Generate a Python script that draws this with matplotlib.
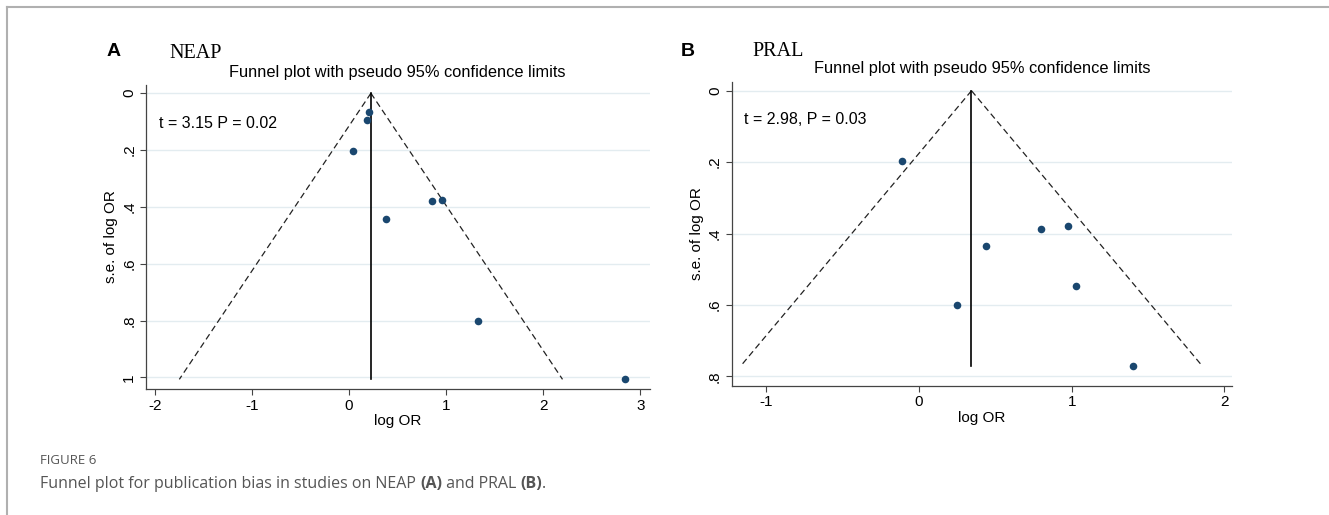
import numpy as np
import matplotlib.pyplot as plt
from matplotlib.lines import Line2D

# Panel A (NEAP) study estimates
neap_logor = [0.207, 0.188, 0.044, 0.856, 0.956, 0.384, 1.325, 2.845]
neap_se = [0.067, 0.095, 0.204, 0.379, 0.377, 0.441, 0.800, 1.007]
neap_pooled = 0.225

# Panel B (PRAL) study estimates
pral_logor = [-0.108, 0.796, 0.974, 0.436, 1.026, 0.251, 1.403]
pral_se = [0.196, 0.387, 0.379, 0.436, 0.546, 0.600, 0.771]
pral_pooled = 0.344

neap_xticks = [-2, -1, 0, 1, 2, 3]
neap_yticks = [0, 0.2, 0.4, 0.6, 0.8, 1.0]
neap_ylabels = ["0", ".2", ".4", ".6", ".8", "1"]
pral_xticks = [-1, 0, 1, 2]
pral_yticks = [0, 0.2, 0.4, 0.6, 0.8]
pral_ylabels = ["0", ".2", ".4", ".6", ".8"]

W, H = 1329, 515
fig = plt.figure(figsize=(W / 100, H / 100), dpi=100)
fig.patch.set_facecolor("white")

dot = "#1a476f"
grid_c = "#e3ecf0"


def funnel(ax, x, se, pooled, xlim, ylim, xticks, yticks, ylabels, note):
    ax.set_xlim(*xlim)
    ax.set_ylim(*ylim)  # inverted: se grows downwards
    for t in yticks:
        ax.axhline(t, color=grid_c, lw=1.0, zorder=0)
    smax = max(se)
    s = np.array([0, smax])
    ax.plot(pooled - 1.96 * s, s, ls=(0, (5, 3)), color="#222222", lw=0.9)
    ax.plot(pooled + 1.96 * s, s, ls=(0, (5, 3)), color="#222222", lw=0.9)
    ax.plot([pooled, pooled], [0, smax], color="black", lw=1.2)
    ax.scatter(x, se, s=30, color=dot, zorder=3, linewidths=0)
    ax.set_xticks(xticks)
    ax.set_xticklabels([str(v) for v in xticks], fontsize=11, family="Liberation Sans")
    ax.set_yticks(yticks)
    ax.set_yticklabels(ylabels, fontsize=11, family="Liberation Sans",
                       rotation=90, va="center")
    for sp in ["top", "right"]:
        ax.spines[sp].set_visible(False)
    for sp in ["left", "bottom"]:
        ax.spines[sp].set_color("#444444")
        ax.spines[sp].set_linewidth(0.9)
    ax.tick_params(length=4, width=0.8, color="#444444", pad=3)
    ax.set_xlabel("log OR", fontsize=11, family="Liberation Sans", labelpad=1)
    ax.set_ylabel("s.e. of log OR", fontsize=11, family="Liberation Sans", labelpad=3)
    ax.text(0.025, 0.875, note, transform=ax.transAxes, fontsize=11.5,
            family="Liberation Sans", va="center")
    ax.set_facecolor("white")


axA = fig.add_axes([146 / W, 1 - 389 / H, 504 / W, 304 / H])
funnel(axA, neap_logor, neap_se, neap_pooled, (-2.092, 3.10), (1.041, -0.029),
       neap_xticks, neap_yticks, neap_ylabels, "t = 3.15 P = 0.02")

axB = fig.add_axes([731.6 / W, 1 - 385.6 / H, 500.4 / W, 303.8 / H])
funnel(axB, pral_logor, pral_se, pral_pooled, (-1.227, 2.05), (0.826, -0.025),
       pral_xticks, pral_yticks, pral_ylabels, "t = 2.98, P = 0.03")

# panel letters, names, titles
fig.text(107 / W, 1 - 52 / H, "A", fontsize=14, fontweight="bold",
         family="Liberation Sans", va="center")
fig.text(169 / W, 1 - 54 / H, "NEAP", fontsize=14.5, family="Liberation Serif", va="center")
fig.text(397 / W, 1 - 72 / H, "Funnel plot with pseudo 95% confidence limits",
         fontsize=11.8, family="Liberation Sans", ha="center", va="center")
fig.text(681 / W, 1 - 52 / H, "B", fontsize=14, fontweight="bold",
         family="Liberation Sans", va="center")
fig.text(752 / W, 1 - 51 / H, "PRAL", fontsize=14.5, family="Liberation Serif", va="center")
fig.text(982 / W, 1 - 69 / H, "Funnel plot with pseudo 95% confidence limits",
         fontsize=11.8, family="Liberation Sans", ha="center", va="center")

# page frame lines
fig.add_artist(Line2D([7 / W, 1], [1 - 7 / H, 1 - 7 / H], color="#b0b0b0", lw=1.5))
fig.add_artist(Line2D([7 / W, 7 / W], [0, 1 - 7 / H], color="#b0b0b0", lw=1.5))

# caption
cap_c = "#555555"
fig.text(40 / W, 1 - 460 / H, "FIGURE 6", fontsize=9.5, family="Open Sans",
         color=cap_c, va="center")
parts = [("Funnel plot for publication bias in studies on NEAP ", "normal"),
         ("(A)", "bold"), (" and PRAL ", "normal"), ("(B)", "bold"), (".", "normal")]
fig.canvas.draw()
r = fig.canvas.get_renderer()
xpos = 40
for txt, wgt in parts:
    t = fig.text(xpos / W, 1 - 484 / H, txt, fontsize=11.5, family="Open Sans",
                 color=cap_c, fontweight=wgt, va="center")
    xpos += t.get_window_extent(renderer=r).width

fig.savefig("out.png", dpi=100)
